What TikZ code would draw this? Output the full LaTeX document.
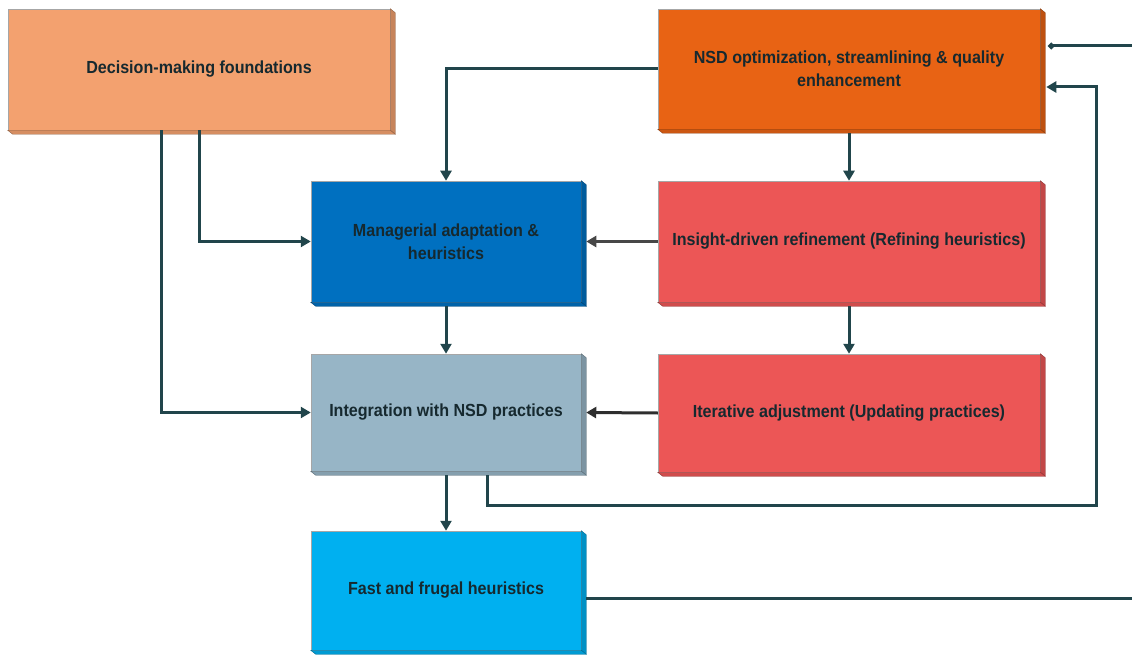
\documentclass[tikz,border=0pt]{standalone}
\usepackage{fontspec}
\setmainfont[FakeStretch=0.92]{Liberation Sans}
\usetikzlibrary{arrows.meta}
\definecolor{cDmf}{HTML}{F3A16F}
\definecolor{cNsd}{HTML}{E86314}
\definecolor{cMgr}{HTML}{0070C0}
\definecolor{cRed}{HTML}{EC5656}
\definecolor{cInt}{HTML}{97B5C6}
\definecolor{cFast}{HTML}{00B0F0}
\definecolor{cText}{HTML}{16292F}
\definecolor{cLine}{HTML}{21454B}
\begin{document}
\begin{tikzpicture}[x=1pt,y=-1pt,
  blk/.style={draw=black!35,line width=0.5pt,minimum width=#1,inner sep=4pt,
    text=cText,font=\bfseries\fontsize{17.5}{23}\selectfont,align=center},
  conn/.style={draw=cLine,line width=3pt,-{Triangle[length=10pt,width=11pt]}},
  plain/.style={draw=cLine,line width=3pt}]
\useasboundingbox (0,0) rectangle (1132,655);

% front faces
\node[blk=382pt,minimum height=121pt,fill=cDmf] (dmf) at (199,69.5) {Decision-making foundations};
\node[blk=382pt,minimum height=120pt,fill=cNsd] (nsd) at (849,69) {NSD optimization, streamlining \& quality\\enhancement};
\node[blk=270pt,minimum height=121pt,fill=cMgr] (mgr) at (446,241.5) {Managerial adaptation \&\\heuristics};
\node[blk=382pt,minimum height=121pt,fill=cRed] (ins) at (849,241.5) {Insight-driven refinement (Refining heuristics)};
\node[blk=270pt,minimum height=117pt,fill=cInt] (integ) at (446,412.5) {Integration with NSD practices};
\node[blk=382pt,minimum height=118pt,fill=cRed] (iter) at (849,413) {Iterative adjustment (Updating practices)};
\node[blk=270pt,minimum height=119pt,fill=cFast] (fast) at (446,590.5) {Fast and frugal heuristics};

% extruded sides of every block
\foreach \n/\c in {dmf/cDmf,nsd/cNsd,mgr/cMgr,ins/cRed,integ/cInt,iter/cRed,fast/cFast}{
  \filldraw[fill=\c!82!black,draw=\c!60!black,line width=0.4pt]
    (\n.north east) -- ++(5,4) -- ([shift={(5,4)}]\n.south east) -- (\n.south east) -- cycle;
  \filldraw[fill=\c!88!black,draw=\c!60!black,line width=0.4pt]
    (\n.south west) -- ++(5,4) -- ([shift={(5,4)}]\n.south east) -- (\n.south east) -- cycle;
}

% free ends at the right border
\coordinate (rtop) at (1132,46);
\coordinate (rbot) at (1132,598);
\coordinate (loop) at (1096,505);

% connectors
\draw[conn] (nsd.west) -| (mgr.north);
\draw[conn] (dmf.south) |- (mgr.west);
\draw[conn] ([xshift=-38pt]dmf.south) |- (integ.west);
\draw[conn] ([yshift=-4pt]nsd.south) -- (ins.north);
\draw[conn,draw=black!72,fill=black!72] (ins.west) -- ([xshift=5pt]mgr.east);
\draw[conn] ([yshift=-4pt]ins.south) -- (iter.north);
\draw[conn,draw=black!82,fill=black!82] (iter.west) -- ([xshift=5pt]integ.east);
\draw[conn] ([yshift=-4pt]mgr.south) -- (integ.north);
\draw[conn] ([yshift=-4pt]integ.south) -- (fast.north);
\draw[conn] ([xshift=41pt,yshift=-4pt]integ.south) |- (loop) |- ([xshift=6pt,yshift=-18pt]nsd.east);
\draw[plain,-{Circle[length=6pt,width=6pt]}] (rtop) -- ([xshift=8pt,yshift=23pt]nsd.east);
\draw[plain] ([xshift=5pt,yshift=-7.5pt]fast.east) -- (rbot);
\end{tikzpicture}
\end{document}
